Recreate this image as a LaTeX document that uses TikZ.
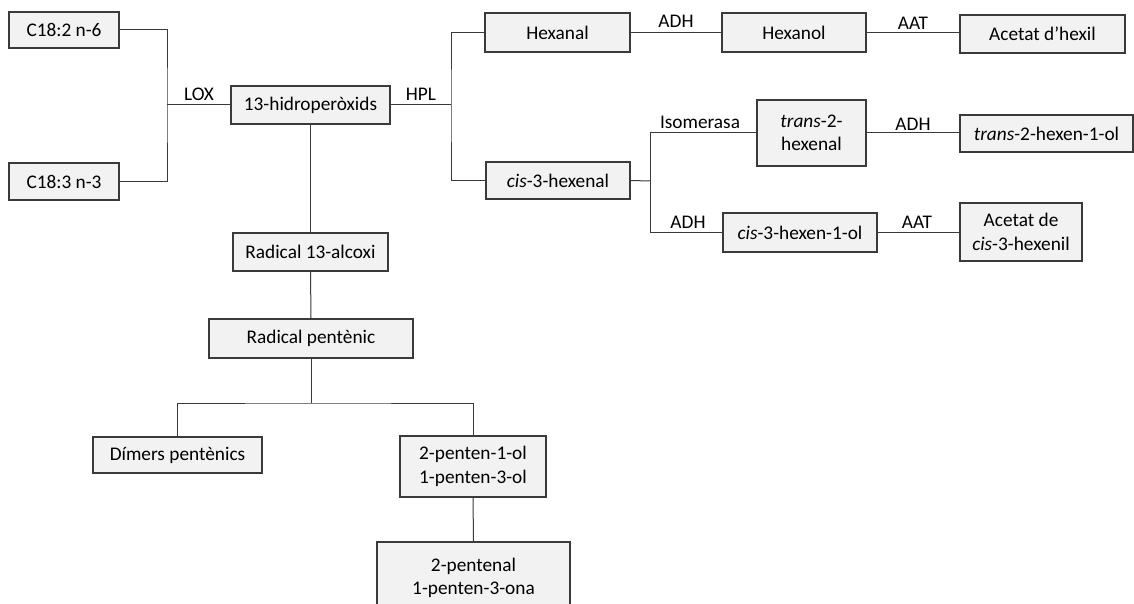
\documentclass[tikz,border=0pt]{standalone}
\usepackage{fontspec}
\setmainfont{Carlito}
\definecolor{boxfill}{HTML}{F2F2F2}
\definecolor{edge}{HTML}{3A3A3A}
\tikzset{
  txt/.style={font=\fontsize{19.3}{23.5}\selectfont, text=black},
  box/.style={txt, draw=edge, line width=1.2pt, fill=boxfill, inner sep=0pt,
    align=center, minimum width=#1},
  enzyme/.style={txt, inner sep=0pt},
  link/.style={draw=edge, line width=1pt},
}
\begin{document}
\begin{tikzpicture}[x=1pt,y=-1pt]
\clip (0,0) rectangle (1134,604);
\fill[white] (0,0) rectangle (1134,604);

% fatty acids and hydroperoxides
\node[box=110pt, minimum height=36pt] (c182) at (64,30) {C18:2 n-6};
\node[box=110pt, minimum height=37pt] (c183) at (64,181.5) {C18:3 n-3};
\node[box=159pt, minimum height=38pt] (hidro) at (310.5,105) {13-hidroperòxids};

% lower branch
\node[box=155pt, minimum height=38pt] (alcoxi) at (310.5,252) {Radical 13-alcoxi};
\node[box=204pt, minimum height=39pt] (pentenic) at (311,338.5) {Radical pentènic};
\node[box=169pt, minimum height=36pt] (dimers) at (177.5,455) {Dímers pentènics};
\node[box=146pt, minimum height=61pt] (penten) at (473,466.5) {2-penten-1-ol\\1-penten-3-ol};
\node[box=193pt, minimum height=72pt] (pentenal) at (473.5,578) {2-pentenal\\1-penten-3-ona};

% C6 aldehydes, alcohols and esters
\node[box=145pt, minimum height=39pt] (hexanal) at (557.5,32.5) {Hexanal};
\node[box=144pt, minimum height=39pt] (hexanol) at (794,32.5) {Hexanol};
\node[box=165pt, minimum height=38pt] (acethex) at (1042.5,34) {Acetat d’hexil};
\node[box=144pt, minimum height=37pt] (cisal) at (558,180.5) {\textit{cis}-3-hexenal};
\node[box=109pt, minimum height=66pt] (transal) at (811.5,133) {\textit{trans}-2-\\hexenal};
\node[box=173pt, minimum height=37pt] (transol) at (1046.5,133.5) {\textit{trans}-2-hexen-1-ol};
\node[box=154pt, minimum height=39pt] (cisol) at (800,232.5) {\textit{cis}-3-hexen-1-ol};
\node[box=122pt, minimum height=58pt] (acetcis) at (1021,232) {Acetat de\\\textit{cis}-3-hexenil};

% branching points
\coordinate (jlox) at (167,105);
\coordinate (jhpl) at (451,105);
\coordinate (jcis) at (650,181);
\coordinate (jpent) at (311,403);

% connectors
\draw[link] (c182.east) -| (jlox) |- (c183.east);
\draw[link] (jlox) -- (hidro.west);
\draw[link] (hidro.east) -- (jhpl);
\draw[link] (hexanal.west) -| (jhpl) |- (cisal.west);
\draw[link] (hexanal.east) -- (hexanol.west);
\draw[link] (hexanol.east) -- (hexanol.east -| acethex.west);
\draw[link] (cisal.east) -- (jcis);
\draw[link] (transal.west) -| (jcis) |- (cisol.west);
\draw[link] (transal.east) -- (transal.east -| transol.west);
\draw[link] (cisol.east) -- (cisol.east -| acetcis.west);
\draw[link] (hidro.south) -- (alcoxi.north);
\draw[link] (alcoxi.south) -- (pentenic.north);
\draw[link] (pentenic.south) -- (jpent);
\draw[link] (dimers.north) |- (jpent) -| (penten.north);
\draw[link] (penten.south) -- (pentenal.north);

% enzyme labels
\node[enzyme] (lox) at (199,94) {LOX};
\node[enzyme] (hpl) at (421,94) {HPL};
\node[enzyme] (adh1) at (676,21) {ADH};
\node[enzyme] (aat1) at (913,23) {AAT};
\node[enzyme] (isom) at (700,122) {Isomerasa};
\node[enzyme] (adh2) at (913,124) {ADH};
\node[enzyme] (adh3) at (688,222) {ADH};
\node[enzyme] (aat2) at (917,222) {AAT};
\end{tikzpicture}
\end{document}
